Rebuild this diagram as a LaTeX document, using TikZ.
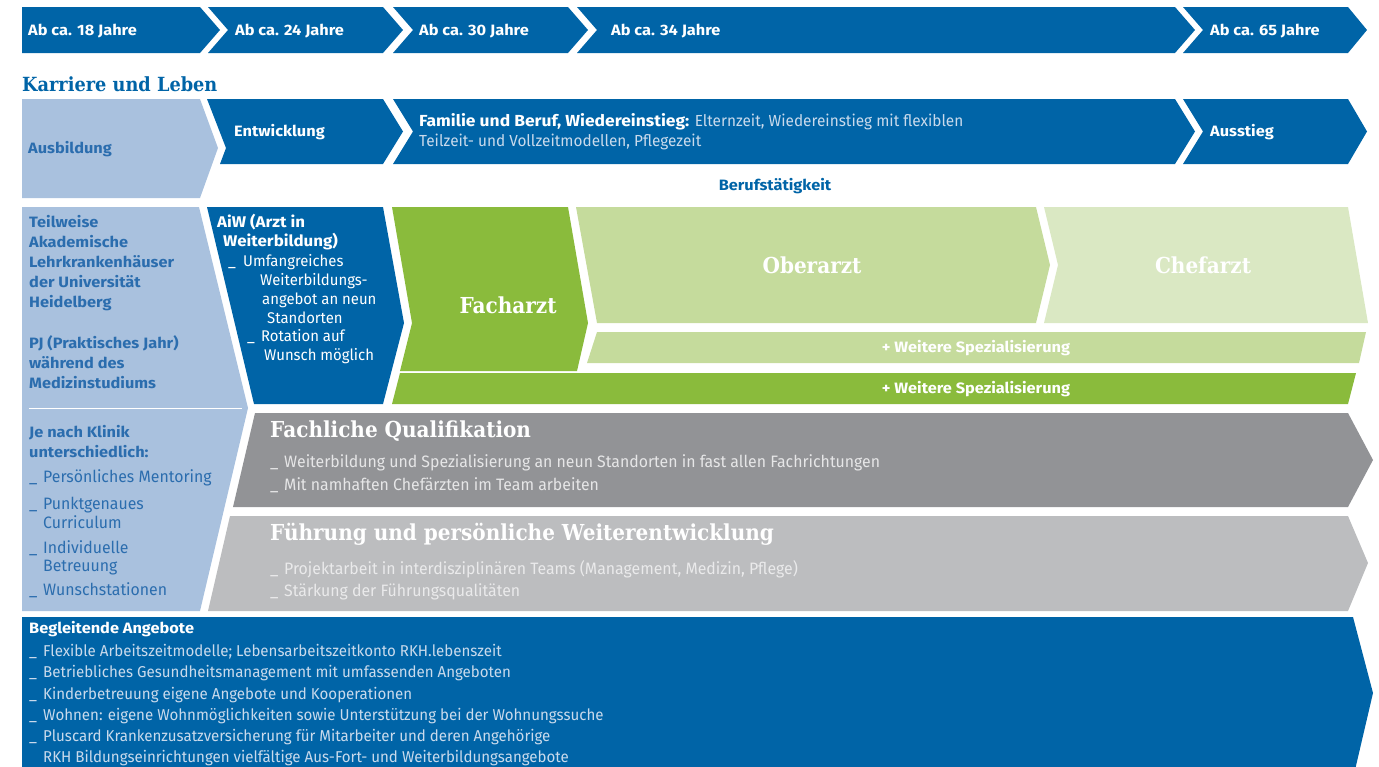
\documentclass[tikz,border=0pt]{standalone}
\usepackage{fontspec}
\setmainfont{Fira Sans}[UprightFeatures={FakeStretch=0.96}, BoldFeatures={FakeStretch=1.09}]
\newfontfamily\slab{DejaVu Serif}[FakeStretch=0.91]
\usepackage{xcolor}

\definecolor{rkhblue}{HTML}{0064A7}
\definecolor{rkhpale}{HTML}{A9C1DE}
\definecolor{rkhtext}{HTML}{2B6DAE}
\definecolor{rkhgreen}{HTML}{8ABB3C}
\definecolor{rkhlgreen}{HTML}{C5DB9C}
\definecolor{rkhvlgreen}{HTML}{DAE8C3}
\definecolor{rkhgrey}{HTML}{929396}
\definecolor{rkhlgrey}{HTML}{BCBDBF}
\definecolor{softblue}{HTML}{C9DAEC}
\definecolor{softgrey}{HTML}{E6E6E7}
\definecolor{fadegrey}{HTML}{EAEAEB}

\newcommand{\bul}{\makebox[14pt][l]{\_}}

\begin{document}
\begin{tikzpicture}[x=1pt, y=-1pt,
  txt/.style={anchor=west, inner sep=0pt, text=white},
  bold/.style={txt, font=\fontsize{15}{18}\selectfont\bfseries},
  plain/.style={txt, font=\fontsize{16.5}{19}\selectfont},
  paletxt/.style={txt, text=rkhtext, align=left},
  slabhead/.style={inner sep=0pt, text=white, font=\fontsize{22}{26}\slab\bfseries}]

\useasboundingbox (0,0) rectangle (1379,766);
\clip (0,0) rectangle (1379,766);

% Altersstufen
\fill[rkhblue] (22,7) -- (200,7) -- (220,30) -- (200,53) -- (22,53) -- cycle;
\fill[rkhblue] (208,7) -- (383,7) -- (403,30) -- (383,53) -- (208,53) -- (228,30) -- cycle;
\fill[rkhblue] (393,7) -- (568,7) -- (588,30) -- (568,53) -- (393,53) -- (413,30) -- cycle;
\fill[rkhblue] (577,7) -- (1175,7) -- (1195,30) -- (1175,53) -- (577,53) -- (597,30) -- cycle;
\fill[rkhblue] (1183,7) -- (1348,7) -- (1367,30) -- (1348,53) -- (1183,53) -- (1203,30) -- cycle;

\node[bold] (age18) at (28,31) {Ab ca. 18 Jahre};
\node[bold] (age24) at (235,31) {Ab ca. 24 Jahre};
\node[bold] (age30) at (419,31) {Ab ca. 30 Jahre};
\node[bold] (age34) at (611,31) {Ab ca. 34 Jahre};
\node[bold] (age65) at (1210,31) {Ab ca. 65 Jahre};

\node[txt, text=rkhblue, font=\fontsize{19.5}{22}\slab\bfseries] (title) at (22,84) {Karriere und Leben};

% Karriere und Leben
\fill[rkhpale] (22,99) -- (200,99) -- (218,148) -- (200,198) -- (22,198) -- cycle;
\fill[rkhblue] (207,99) -- (383,99) -- (403,131.5) -- (383,164) -- (220,164) -- (226,148) -- cycle;
\fill[rkhblue] (393,99) -- (1175,99) -- (1195,131.5) -- (1175,164) -- (393,164) -- (413,131.5) -- cycle;
\fill[rkhblue] (1183,99) -- (1348,99) -- (1367,131.5) -- (1348,164) -- (1183,164) -- (1203,131.5) -- cycle;

\node[bold, text=rkhtext] (ausb) at (28,149) {Ausbildung};
\node[bold] (entw) at (234,132.5) {Entwicklung};
\node[txt, font=\fontsize{16}{19}\selectfont] (famA) at (419,122)
  {\textbf{Familie und Beruf, Wiedereinstieg:} \textcolor{softblue}{Elternzeit, Wiedereinstieg mit flexiblen}};
\node[txt, text=softblue, font=\fontsize{16}{19}\selectfont] (famB) at (419,142) {Teilzeit- und Vollzeitmodellen, Pflegezeit};
\node[bold] (ausst) at (1210,132.5) {Ausstieg};
\node[bold, text=rkhblue, anchor=center] (beruf) at (775,186) {Berufstätigkeit};

% Ausbildung
\fill[rkhpale] (22,207) -- (199,207) -- (248,408) -- (200,611) -- (22,611) -- cycle;
\draw[white, line width=1pt] (29,408) -- (242,408);

\node[paletxt, anchor=north west, font=\fontsize{15}{20}\selectfont\bfseries] (lehr) at (29,215)
  {Teilweise\\Akademische\\Lehrkrankenhäuser\\der Universität\\Heidelberg\\[21pt]PJ (Praktisches Jahr)\\während des\\Medizinstudiums};
\node[paletxt, anchor=north west, font=\fontsize{15}{20}\selectfont\bfseries] (klinik) at (29,425)
  {Je nach Klinik\\unterschiedlich:};
\node[paletxt, font=\fontsize{16.5}{18.5}\selectfont] (kA) at (29,478) {\bul Persönliches Mentoring};
\node[paletxt, anchor=north west, font=\fontsize{16.5}{18.5}\selectfont] (kB) at (29,497) {\bul Punktgenaues\\\hspace*{14pt}Curriculum};
\node[paletxt, anchor=north west, font=\fontsize{16.5}{18.5}\selectfont] (kC) at (29,540) {\bul Individuelle\\\hspace*{14pt}Betreuung};
\node[paletxt, font=\fontsize{16.5}{18.5}\selectfont] (kD) at (29,590) {\bul Wunschstationen};

% Weiterbildung
\fill[rkhblue] (207,207) -- (383,207) -- (404,323) -- (383,404) -- (254,404) -- cycle;
\node[bold, font=\fontsize{15.5}{18}\selectfont\bfseries] (aiwA) at (217,222) {AiW (Arzt in};
\node[bold, font=\fontsize{15.5}{18}\selectfont\bfseries] (aiwB) at (223,242) {Weiterbildung)};
\node[plain, font=\fontsize{15.5}{18}\selectfont] (aiwC) at (228,262) {\bul\hspace*{1pt}Umfangreiches};
\node[plain, font=\fontsize{15.5}{18}\selectfont] (aiwD) at (260,281) {Weiterbildungs-};
\node[plain, font=\fontsize{15.5}{18}\selectfont] (aiwE) at (262,300) {angebot an neun};
\node[plain, font=\fontsize{15.5}{18}\selectfont] (aiwF) at (267,318) {Standorten};
\node[plain, font=\fontsize{15.5}{18}\selectfont] (aiwG) at (247,337) {\bul Rotation auf};
\node[plain, font=\fontsize{15.5}{18}\selectfont] (aiwH) at (264,356) {Wunsch möglich};

% Berufstaetigkeit
\fill[rkhgreen] (392,207) -- (568,207) -- (588,323) -- (577,371) -- (400,371) -- (412,323) -- cycle;
\fill[rkhlgreen] (576,207) -- (1036,207) -- (1050,265) -- (1036,323) -- (597,323) -- cycle;
\fill[rkhvlgreen] (1044,207) -- (1348,207) -- (1368,323) -- (1044,323) -- (1058,265) -- cycle;
\fill[rkhlgreen] (597,332) -- (1366,332) -- (1359,363) -- (587,363) -- cycle;
\fill[rkhgreen] (400,373) -- (1356,373) -- (1348,404) -- (392,404) -- cycle;

\node[slabhead] (fach) at (508,305) {Facharzt};
\node[slabhead] (ober) at (812,265) {Oberarzt};
\node[slabhead] (chef) at (1203,265) {Chefarzt};
\node[bold, anchor=center] (spezA) at (976,348) {+ Weitere Spezialisierung};
\node[bold, anchor=center] (spezB) at (976,389) {+ Weitere Spezialisierung};

% Qualifikation und Fuehrung
\fill[rkhgrey] (255,413) -- (1348,413) -- (1373,460) -- (1348,507) -- (233,507) -- cycle;
\fill[rkhlgrey] (230,516) -- (1348,516) -- (1368,563) -- (1348,611) -- (208,611) -- cycle;

\node[txt, font=\fontsize{22}{26}\slab\bfseries] (qual) at (270,431) {Fachliche Qualifikation};
\node[plain, text=softgrey] (qualA) at (270,463) {\bul Weiterbildung und Spezialisierung an neun Standorten in fast allen Fachrichtungen};
\node[plain, text=softgrey] (qualB) at (270,485) {\bul Mit namhaften Chefärzten im Team arbeiten};
\node[txt, font=\fontsize{22}{26}\slab\bfseries] (fuehr) at (270,534) {Führung und persönliche Weiterentwicklung};
\node[plain, text=fadegrey] (fuehrA) at (270,569) {\bul Projektarbeit in interdisziplinären Teams (Management, Medizin, Pflege)};
\node[plain, text=fadegrey] (fuehrB) at (270,592) {\bul Stärkung der Führungsqualitäten};

% Begleitende Angebote
\fill[rkhblue] (22,617) -- (1353,617) -- (1373,693) -- (1355,770) -- (22,770) -- cycle;
\node[bold] (begl) at (29,629) {Begleitende Angebote};
\node[txt, text=softblue, anchor=north west, align=left, font=\fontsize{15.7}{21.3}\selectfont] (beglL) at (29,644)
  {\bul Flexible Arbeitszeitmodelle; Lebensarbeitszeitkonto RKH.lebenszeit\\
   \bul Betriebliches Gesundheitsmanagement mit umfassenden Angeboten\\
   \bul Kinderbetreuung eigene Angebote und Kooperationen\\
   \bul Wohnen: eigene Wohnmöglichkeiten sowie Unterstützung bei der Wohnungssuche\\
   \bul Pluscard Krankenzusatzversicherung für Mitarbeiter und deren Angehörige\\
   \hspace*{14pt}RKH Bildungseinrichtungen vielfältige Aus-Fort- und Weiterbildungsangebote};
\end{tikzpicture}
\end{document}
